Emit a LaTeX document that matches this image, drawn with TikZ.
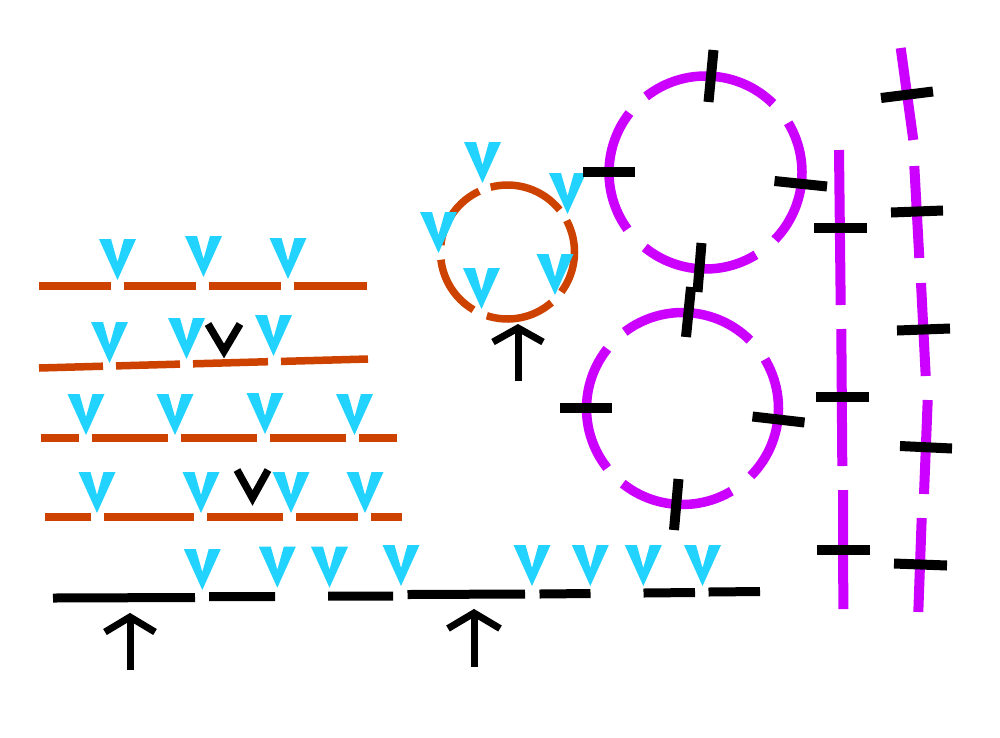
\documentclass[tikz,border=0pt]{standalone}
\usepackage{tikz}
\definecolor{vcyan}{RGB}{34,211,255}
\definecolor{rust}{RGB}{206,66,0}
\definecolor{violet2}{RGB}{204,0,255}
\tikzset{
  orangeline/.style={draw=rust,line width=7.5pt,line cap=butt},
  magline/.style={draw=violet2,line width=10pt,line cap=butt},
  magarc/.style={draw=violet2,line width=9.5pt,line cap=butt},
  tickmark/.style={draw=black,line width=10pt,line cap=butt},
  baseseg/.style={draw=black,line width=9pt,line cap=butt},
  arrowline/.style={draw=black,line width=7pt,line cap=butt,line join=miter},
  chevron/.style={draw=black,line width=7.5pt,line cap=butt,line join=miter},
  cv/.pic={\fill[vcyan] (-18.5,0) -- (-6.5,0) -- (0,23) -- (6.5,0) -- (18.5,0) -- (0,41) -- cycle;}
}
\begin{document}
\begin{tikzpicture}[x=1pt,y=-1pt]
\useasboundingbox (0,0) rectangle (1000,737);
\fill[white] (0,0) rectangle (1000,737);

% ---- orange rows ----
\draw[orangeline] (39,286)--(111,286) (124,286)--(196,286) (209,286)--(281,286) (294,286)--(367,286);
\draw[orangeline] (39,368)--(103,366.2) (116,365.9)--(180,364.1) (193,363.8)--(268,361.7) (281,361.4)--(368,359);
\draw[orangeline] (41,438)--(79,438) (92,438)--(168,438) (181,438)--(257,438) (270,438)--(346,438) (359,438)--(397,438);
\draw[orangeline] (45,517)--(91,517) (104,517)--(194,517) (207,517)--(283,517) (296,517)--(358,517) (371,517)--(402,517);

% ---- cyan V marks on rows ----
\foreach \x/\y in {117.5/239,203.5/236,288/238,
                   109.5/322,186.5/318,273.5/315,
                   86/394,175/394,265/393,354.5/394,
                   97/472,201/472,291/472,365/472}
  \pic at (\x,\y) {cv};

% ---- black chevrons ----
\draw[chevron] (208,324)--(224,351)--(240,324);
\draw[chevron] (237,470)--(252.5,498)--(268,470);

% ---- bottom black line ----
\draw[baseseg] (53,598)--(195,597.5) (209,596.5)--(275,596.5) (328,596)--(393,596)
  (407.5,594.5)--(525,594) (539.5,594)--(590.5,593.5) (643.5,593)--(695,592.5) (708.5,592)--(760,591.5);
\foreach \x/\y in {202.3/549,277.3/546.7,329.5/546.7,401/545,532/545,590.3/545,643.3/545,702.5/545}
  \pic at (\x,\y) {cv};

% ---- arrows ----
\draw[arrowline] (130,670)--(130,617);
\draw[arrowline] (105,632)--(130,617)--(155,632);
\draw[arrowline] (474,667)--(474,614);
\draw[arrowline] (448,628.5)--(474,613)--(500,628.5);
\draw[arrowline] (518,381)--(518,329);
\draw[arrowline] (493,342)--(518,328)--(543,342);

% ---- orange circle ----
\coordinate (oc) at (507.5,252);
\foreach \a/\b in {115/174,38.9/104.6,-36.5/28,-108/-49,-173.4/-120.5}
  \draw[orangeline] (oc) ++(-\a:67) arc[start angle=-\a,end angle=-\b,radius=67];
\foreach \x/\y in {482.5/142,567.5/173,438.5/212,481.5/268,555/254}
  \pic at (\x,\y) {cv};

% ---- magenta circles ----
\coordinate (mu) at (705.5,172.5);
\coordinate (ml) at (682.5,408.5);
\foreach \a/\b in {45.6/128,-44/31,-129/-58.5,142/216}
  \draw[magarc] (mu) ++(-\a:96.5) arc[start angle=-\a,end angle=-\b,radius=96.5];
\foreach \a/\b in {45.4/127,-44.6/30.8,-128.5/-59.4,141.5/218.3}
  \draw[magarc] (ml) ++(-\a:96) arc[start angle=-\a,end angle=-\b,radius=96];

% ticks on circles
\draw[tickmark] (713.5,50)--(708.5,102);
\draw[tickmark] (583,171.5)--(635,171.5);
\draw[tickmark] (774.5,181)--(827,186.5);
\draw[tickmark] (701.5,243)--(697.5,292);
\draw[tickmark] (691,287)--(686,337);
\draw[tickmark] (560,407.5)--(612,407.5);
\draw[tickmark] (752.5,416.5)--(804.5,422.5);
\draw[tickmark] (678.5,479)--(674,530);

% ---- magenta vertical lines ----
\draw[magline] (839,150)--(840.7,305) (841.3,329)--(842.3,466) (843,490)--(843.3,609);
\draw[magline] (900.7,48)--(913.3,140) (914.3,166)--(919.3,258) (921,283)--(925.7,376)
  (927.7,400)--(924,494) (921.7,518)--(918.3,612);
\draw[tickmark] (814,227.5)--(867,227.5);
\draw[tickmark] (816,397)--(869,397);
\draw[tickmark] (817,549.5)--(870,549.5);
\draw[tickmark] (881,98)--(933,91.5);
\draw[tickmark] (891,212.5)--(943,210.5);
\draw[tickmark] (897,330.5)--(950,328.5);
\draw[tickmark] (900,446)--(952,448.5);
\draw[tickmark] (894,563.5)--(947,565.5);
\end{tikzpicture}
\end{document}
